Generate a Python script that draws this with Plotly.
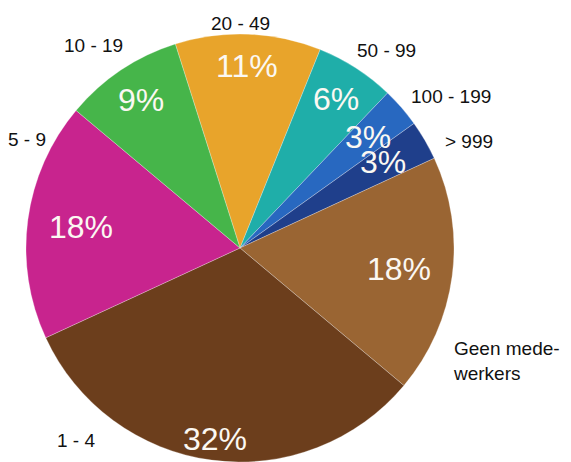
import math
import plotly.graph_objects as go

# Company size classes (number of employees), clockwise from the top
categories = ["20 - 49", "50 - 99", "100 - 199", "> 999",
              "Geen mede-<br>werkers", "1 - 4", "5 - 9", "10 - 19"]
shares = [11, 6, 3, 3, 18, 32, 18, 9]
colors = ["#E8A42B", "#1FAEA9", "#2868C0", "#1F3F8B",
          "#9A6533", "#6C3E1C", "#C8248E", "#46B54A"]

W, H = 571, 462
R = 214                      # pie radius in px
CX, CY = 240, H - R          # pie centre (px from left / top)
START = -17.6                # first slice edge, degrees clockwise from 12 o'clock

fig = go.Figure(go.Pie(
    labels=categories,
    values=shares,
    sort=False,
    direction="clockwise",
    rotation=START,
    marker=dict(colors=colors, line=dict(color="rgba(255,255,255,0.45)", width=0.6)),
    textinfo="none",
    hoverinfo="label+percent",
    showlegend=False,
    domain=dict(x=[(CX - R) / W, (CX + R) / W], y=[0, 2 * R / H]),
))

# Percentage labels inside the slices, placed along each slice's middle angle
pct_radius = [0.85, 0.83, 0.79, 0.78, 0.75, 0.90, 0.75, 0.83]
pct_shift = [0, 0, 0, -1, 0, 0, 0, 0]
total = sum(shares)
acc = 0.0
annotations = []
for i, v in enumerate(shares):
    mid = START + 360.0 * (acc + v / 2) / total + pct_shift[i]
    acc += v
    a = math.radians(mid)
    px = CX + pct_radius[i] * R * math.sin(a)
    py = CY - pct_radius[i] * R * math.cos(a)
    annotations.append(dict(
        x=px / W, y=1 - py / H, xref="paper", yref="paper",
        text=f"{v}%", showarrow=False, xanchor="center", yanchor="middle",
        font=dict(family="Liberation Sans, Arial, sans-serif", size=32, color="#FBF8F2"),
    ))

# Category labels around the pie (px positions, anchor)
label_pos = [
    (240, 23, "center"), (386, 51, "center"), (451, 96, "center"),
    (469, 141, "center"), (451, 361, "left"), (76, 440, "center"),
    (27, 140, "center"), (93, 46, "center"),
]
for name, (lx, ly, anchor) in zip(categories, label_pos):
    annotations.append(dict(
        x=lx / W, y=1 - ly / H, xref="paper", yref="paper",
        text=name, showarrow=False, xanchor=anchor, yanchor="middle", align="left",
        font=dict(family="Liberation Sans, Arial, sans-serif", size=19, color="#111111"),
    ))

fig.update_layout(
    width=W, height=H,
    margin=dict(l=0, r=0, t=0, b=0),
    paper_bgcolor="white",
    plot_bgcolor="white",
    annotations=annotations,
)

fig.write_html("out.html")
